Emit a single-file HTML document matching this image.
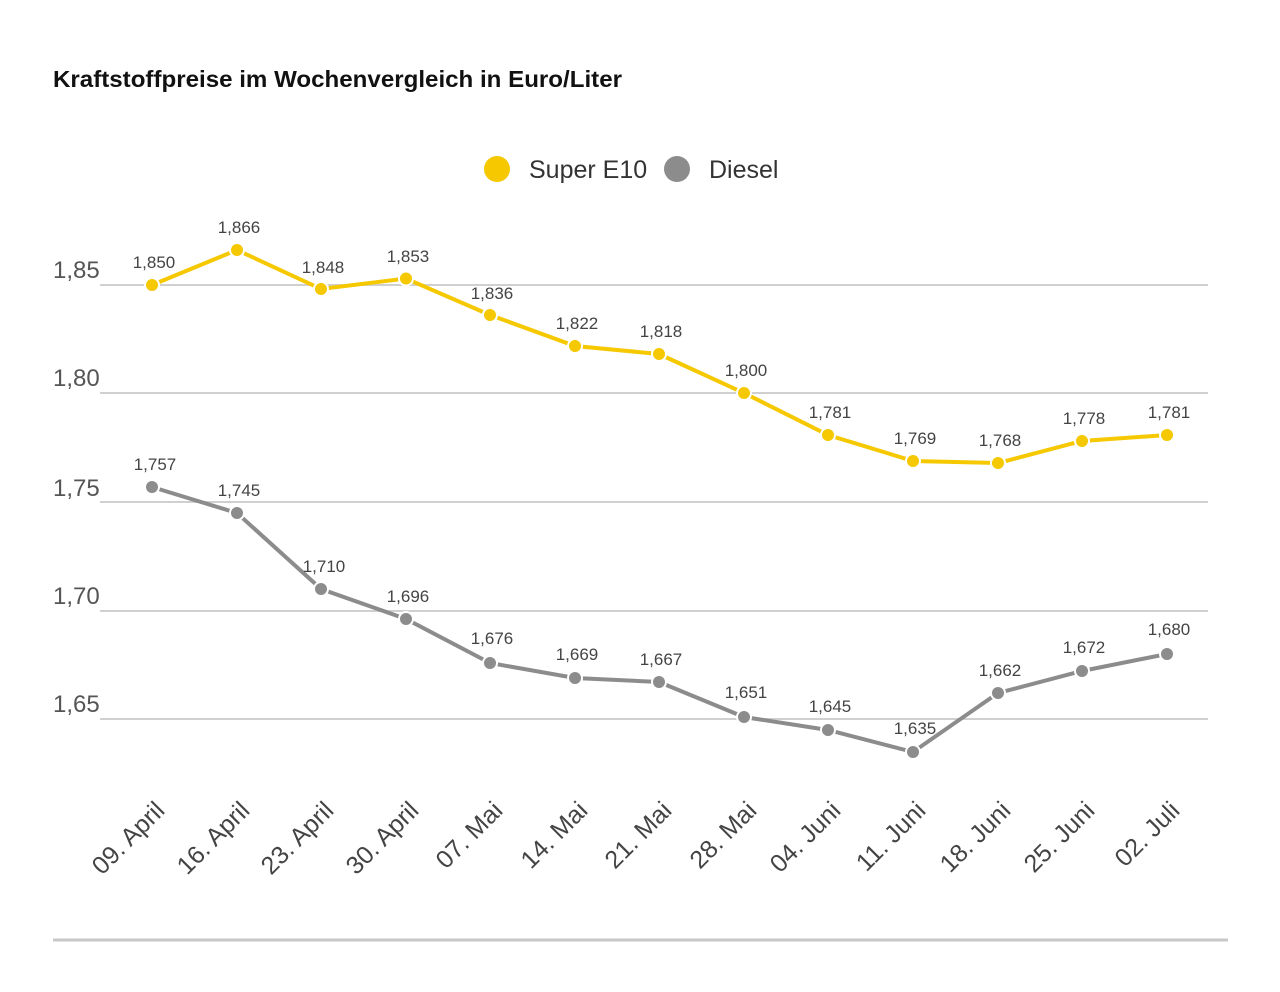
<!DOCTYPE html>
<html><head><meta charset="utf-8"><style>
body{margin:0;background:#fff}
svg{display:block;font-family:"Liberation Sans","DejaVu Sans",sans-serif}
</style></head><body>
<svg width="1280" height="992" viewBox="0 0 1280 992">
<rect width="1280" height="992" fill="#fff"/>
<text x="53" y="87" font-size="23" font-weight="bold" fill="#111" textLength="569" lengthAdjust="spacingAndGlyphs">Kraftstoffpreise im Wochenvergleich in Euro/Liter</text>
<circle cx="497" cy="169" r="13" fill="#f5c800"/>
<text x="529" y="178" font-size="25" fill="#333">Super E10</text>
<circle cx="677" cy="169" r="13" fill="#8c8c8c"/>
<text x="709" y="178" font-size="25" fill="#333">Diesel</text>
<g stroke="#d0d0d0" stroke-width="2">
<line x1="100" y1="285" x2="1208" y2="285"/>
<line x1="100" y1="393" x2="1208" y2="393"/>
<line x1="100" y1="502" x2="1208" y2="502"/>
<line x1="100" y1="611" x2="1208" y2="611"/>
<line x1="100" y1="719" x2="1208" y2="719"/>
</g>
<g font-size="24" fill="#555">
<text x="53" y="278">1,85</text>
<text x="53" y="386">1,80</text>
<text x="53" y="496">1,75</text>
<text x="53" y="604">1,70</text>
<text x="53" y="712">1,65</text>
</g>
<line x1="53" y1="940" x2="1228" y2="940" stroke="#c8c8c8" stroke-width="3"/>
<polyline fill="none" stroke="#f5c800" stroke-width="4" points="152,285 237,250 321,289 406,278.5 490,315 575,346 659,354 744,393 828,435 913,461 998,463 1082,441 1167,435"/>
<polyline fill="none" stroke="#8c8c8c" stroke-width="4" points="152,487 237,513 321,589 406,619 490,663 575,678 659,682 744,717 828,730 913,752 998,693 1082,671 1167,654"/>
<g fill="#f5c800" stroke="#fff" stroke-width="2">
<circle cx="152" cy="285" r="7"/><circle cx="237" cy="250" r="7"/><circle cx="321" cy="289" r="7"/><circle cx="406" cy="278.5" r="7"/><circle cx="490" cy="315" r="7"/><circle cx="575" cy="346" r="7"/><circle cx="659" cy="354" r="7"/><circle cx="744" cy="393" r="7"/><circle cx="828" cy="435" r="7"/><circle cx="913" cy="461" r="7"/><circle cx="998" cy="463" r="7"/><circle cx="1082" cy="441" r="7"/><circle cx="1167" cy="435" r="7"/>
</g>
<g fill="#8c8c8c" stroke="#fff" stroke-width="2">
<circle cx="152" cy="487" r="7"/><circle cx="237" cy="513" r="7"/><circle cx="321" cy="589" r="7"/><circle cx="406" cy="619" r="7"/><circle cx="490" cy="663" r="7"/><circle cx="575" cy="678" r="7"/><circle cx="659" cy="682" r="7"/><circle cx="744" cy="717" r="7"/><circle cx="828" cy="730" r="7"/><circle cx="913" cy="752" r="7"/><circle cx="998" cy="693" r="7"/><circle cx="1082" cy="671" r="7"/><circle cx="1167" cy="654" r="7"/>
</g>
<g font-size="17" fill="#444" text-anchor="middle">
<text x="154" y="268">1,850</text><text x="239" y="233">1,866</text><text x="323" y="273">1,848</text><text x="408" y="262">1,853</text><text x="492" y="299">1,836</text><text x="577" y="329">1,822</text><text x="661" y="337">1,818</text><text x="746" y="376">1,800</text><text x="830" y="418">1,781</text><text x="915" y="444">1,769</text><text x="1000" y="446">1,768</text><text x="1084" y="424">1,778</text><text x="1169" y="418">1,781</text>
<text x="155" y="470">1,757</text><text x="239" y="496">1,745</text><text x="324" y="572">1,710</text><text x="408" y="602">1,696</text><text x="492" y="644">1,676</text><text x="577" y="660">1,669</text><text x="661" y="665">1,667</text><text x="746" y="698">1,651</text><text x="830" y="712">1,645</text><text x="915" y="734">1,635</text><text x="1000" y="676">1,662</text><text x="1084" y="653">1,672</text><text x="1169" y="635">1,680</text>
</g>
<g font-size="25" fill="#444" text-anchor="end">
<text transform="translate(166,812) rotate(-45)">09. April</text>
<text transform="translate(251,812) rotate(-45)">16. April</text>
<text transform="translate(335,812) rotate(-45)">23. April</text>
<text transform="translate(420,812) rotate(-45)">30. April</text>
<text transform="translate(504,812) rotate(-45)">07. Mai</text>
<text transform="translate(589,812) rotate(-45)">14. Mai</text>
<text transform="translate(673,812) rotate(-45)">21. Mai</text>
<text transform="translate(758,812) rotate(-45)">28. Mai</text>
<text transform="translate(842,812) rotate(-45)">04. Juni</text>
<text transform="translate(927,812) rotate(-45)">11. Juni</text>
<text transform="translate(1012,812) rotate(-45)">18. Juni</text>
<text transform="translate(1096,812) rotate(-45)">25. Juni</text>
<text transform="translate(1181,812) rotate(-45)">02. Juli</text>
</g>
</svg>
</body></html>
